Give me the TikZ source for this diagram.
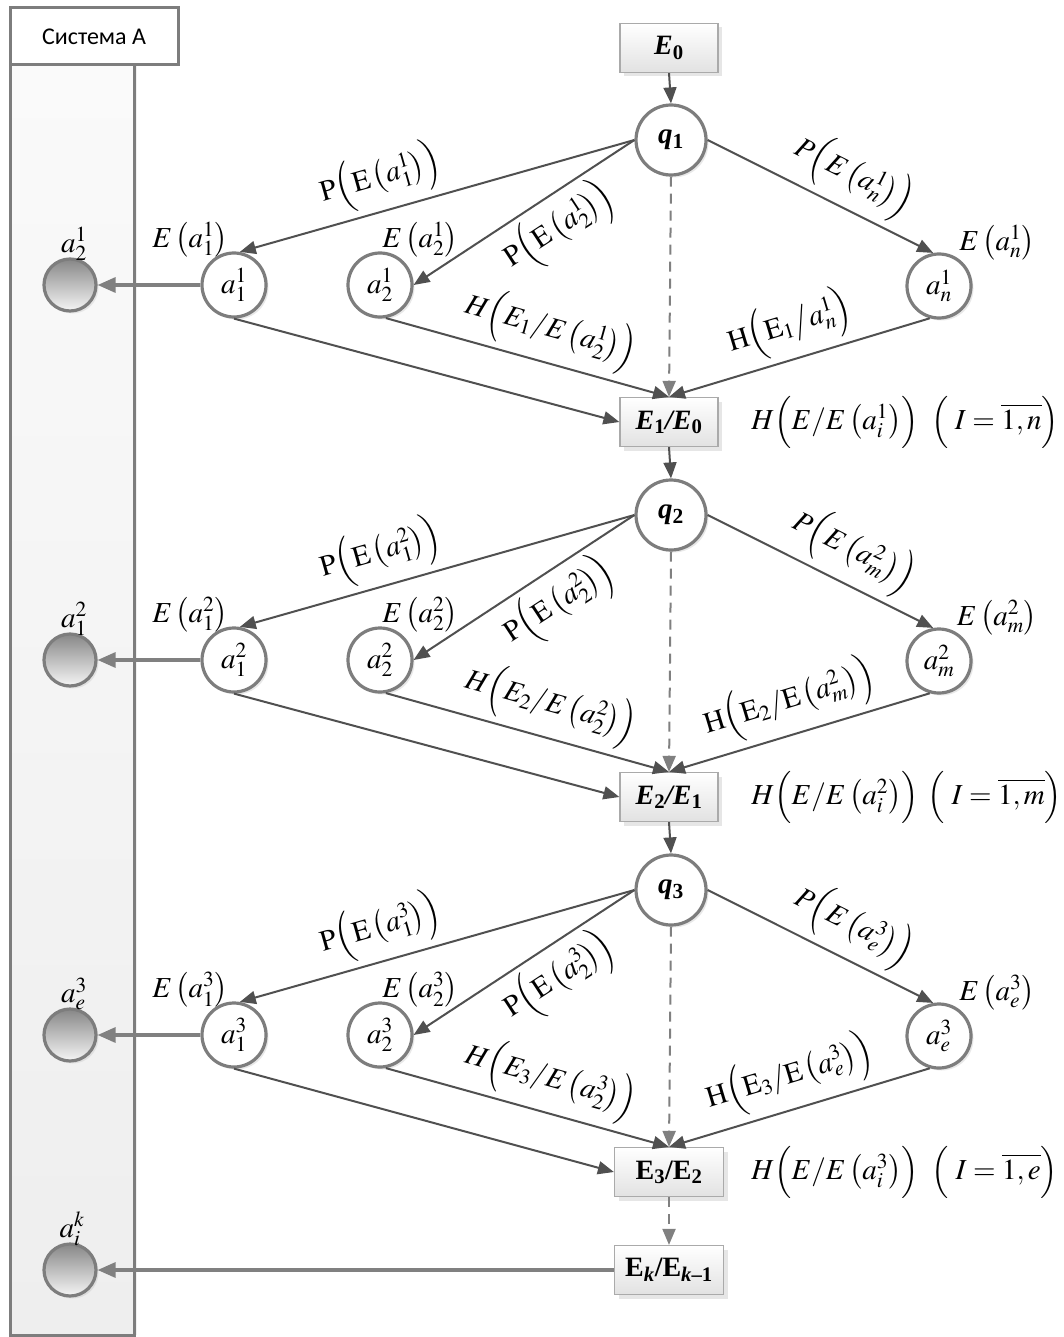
\documentclass[tikz,border=0pt]{standalone}
\usepackage{mathptmx}
\usepackage[no-math]{fontspec}
\setmainfont{Liberation Serif}
\newfontfamily\carlito{Carlito}
\usetikzlibrary{arrows.meta,shadows}

\definecolor{linedark}{RGB}{80,80,80}
\definecolor{linegray}{RGB}{128,128,128}
\definecolor{rimgray}{RGB}{125,125,125}
\definecolor{boxrim}{RGB}{170,170,170}
\definecolor{boxlow}{RGB}{226,226,226}
\definecolor{lanetop}{RGB}{250,250,250}
\definecolor{lanelow}{RGB}{238,238,238}
\definecolor{balltop}{RGB}{135,135,135}
\definecolor{ballbot}{RGB}{245,245,245}

% tall outer brackets of the nested formulas
\newcommand\opn{\Bigl(}
\newcommand\cls{\Bigr)}

\tikzset{
  lbl/.style={inner sep=0pt, font=\fontsize{29}{34}\selectfont},
  state/.style={circle, draw=rimgray, line width=3.2pt, fill=white,
    minimum size=64pt, inner sep=0pt, font=\fontsize{29}{34}\selectfont,
    drop shadow={shadow xshift=2.5pt, shadow yshift=-2.5pt, opacity=.18}},
  qstate/.style={state, minimum size=70pt,
    font=\fontsize{29}{34}\selectfont\bfseries\itshape},
  stepbox/.style={rectangle, draw=boxrim, line width=1.2pt,
    top color=white, bottom color=boxlow, minimum width=98pt,
    minimum height=49pt, inner sep=0pt,
    font=\fontsize{28}{32}\selectfont\bfseries,
    drop shadow={shadow xshift=4pt, shadow yshift=-4pt, opacity=.2}},
  ball/.style={circle, draw=rimgray, line width=3.2pt,
    top color=balltop, bottom color=ballbot, minimum size=52pt, inner sep=0pt,
    drop shadow={shadow xshift=2.5pt, shadow yshift=-2.5pt, opacity=.15}},
  lanebox/.style={rectangle, draw=rimgray, line width=3pt,
    top color=lanetop, bottom color=lanelow,
    minimum width=124pt, minimum height=1270pt, inner sep=0pt,
    drop shadow={shadow xshift=3pt, shadow yshift=0pt, opacity=.12}},
  headbox/.style={rectangle, draw=rimgray, line width=3pt, fill=white,
    minimum width=168pt, minimum height=57pt, inner sep=0pt,
    font=\carlito\fontsize{24}{28}\selectfont},
  edge/.style={draw=linedark, line width=2pt,
    -{Triangle[length=16pt,width=13pt]}},
  dashedge/.style={draw=linegray, line width=2pt,
    dash pattern=on 10pt off 7pt, -{Triangle[length=16pt,width=13pt]}},
  balledge/.style={draw=linegray, line width=3.2pt,
    -{Triangle[length=18pt,width=15pt]}},
}

% One stage: q node, its alternatives, the resulting state box and labels.
% #1 vertical offset, #2 stage number, #3 last index, #4 box text,
% #5 label of the grey ball, #6 label of the last H edge, #7 box width
\newcommand\drawstage[7]{%
\begin{scope}[shift={(0,#1)}]
  \node[qstate] (q#2) at (671,140) {q\textsubscript{\upshape #2}};
  \node[state] (a#2one) at (234,285) {$a_1^{#2}$};
  \node[state] (a#2two) at (380,285) {$a_2^{#2}$};
  \node[state] (a#2last) at (939,286) {$a_{#3}^{#2}$};
  \node[stepbox, minimum width=#7] (S#2) at (669,422) {#4};
  \node[ball] (b#2) at (70,285) {};
  \node[lbl] (bl#2) at (74,244) {$#5$};
  \node[lbl] (ea#2one) at (190,240) {$E\left(a_1^{#2}\right)$};
  \node[lbl] (ea#2two) at (420,240) {$E\left(a_2^{#2}\right)$};
  \node[lbl] (ea#2last) at (997,243) {$E\left(a_{#3}^{#2}\right)$};
  \node[lbl] (hr#2) at (835,422) {$H\opn E/E\left(a_i^{#2}\right)\cls$};
  \node[lbl] (ir#2) at (995,422) {$\opn\;I=\overline{1,#3}\cls$};
  \draw[edge] (q#2.west) -- node[lbl, sloped, above=6pt, pos=.62] (p#2one)
    {$\mathrm{P}\opn\mathrm{E}\left(a_1^{#2}\right)\cls$} (a#2one.80);
  \draw[edge] (q#2.west) -- node[lbl, sloped, below=5pt, pos=.42] (p#2two)
    {$\mathrm{P}\opn\mathrm{E}\left(a_2^{#2}\right)\cls$} (a#2two.east);
  \draw[edge] (q#2.east) -- node[lbl, sloped, above=6pt, pos=.58] (p#2last)
    {$P\opn E\left(a_{#3}^{#2}\right)\cls$} (a#2last.100);
  \draw[dashedge] (q#2.south) -- (S#2.north);
  \draw[edge] (a#2one.south) -- (S#2.west);
  \draw[edge] (a#2two.-80) -- node[lbl, sloped, above=6pt, pos=.55] (h#2two)
    {$H\opn E_{#2}/E\left(a_2^{#2}\right)\cls$} (S#2.north);
  \draw[edge] (a#2last.-106) -- node[lbl, sloped, above=6pt, pos=.5] (h#2last)
    {$#6$} (S#2.north);
  \draw[balledge] (a#2one.west) -- (b#2.east);
\end{scope}}

\begin{document}
\begin{tikzpicture}[x=1pt, y=-1pt]
  \useasboundingbox (0,0) rectangle (1063,1337);

  % system lane with its header
  \node[lanebox] (lane) at (72,700) {};
  \node[headbox] (hdr) at (94,36.5) {Система А};

  % initial state
  \node[stepbox] (E0) at (669,48) {\itshape E\textsubscript{\upshape 0}};

  \drawstage{0}{1}{n}
    {\itshape E\textsubscript{\upshape 1}/E\textsubscript{\upshape 0}}
    {a_2^1}
    {\mathrm{H}\opn\mathrm{E}_1\big/a_n^1\cls}
    {98pt}
  \drawstage{375}{2}{m}
    {\itshape E\textsubscript{\upshape 2}/E\textsubscript{\upshape 1}}
    {a_1^2}
    {\mathrm{H}\opn\mathrm{E}_2/\mathrm{E}\left(a_m^2\right)\cls}
    {98pt}
  \drawstage{750}{3}{e}
    {E\textsubscript{3}/E\textsubscript{2}}
    {a_e^3}
    {\mathrm{H}\opn\mathrm{E}_3/\mathrm{E}\left(a_e^3\right)\cls}
    {109pt}

  \draw[edge] (E0.south) -- (q1.north);
  \draw[edge] (S1.south) -- (q2.north);
  \draw[edge] (S2.south) -- (q3.north);

  % final state
  \node[stepbox, minimum width=109pt] (Sk) at (669,1270)
    {E\textsubscript{\itshape k}/E\textsubscript{{\itshape k}\textendash1}};
  \node[ball] (bk) at (70,1270) {};
  \node[lbl] (blk) at (72,1229) {$a_i^k$};
  \draw[dashedge] (S3.south) -- (Sk.north);
  \draw[balledge] (Sk.west) -- (bk.east);
\end{tikzpicture}
\end{document}
